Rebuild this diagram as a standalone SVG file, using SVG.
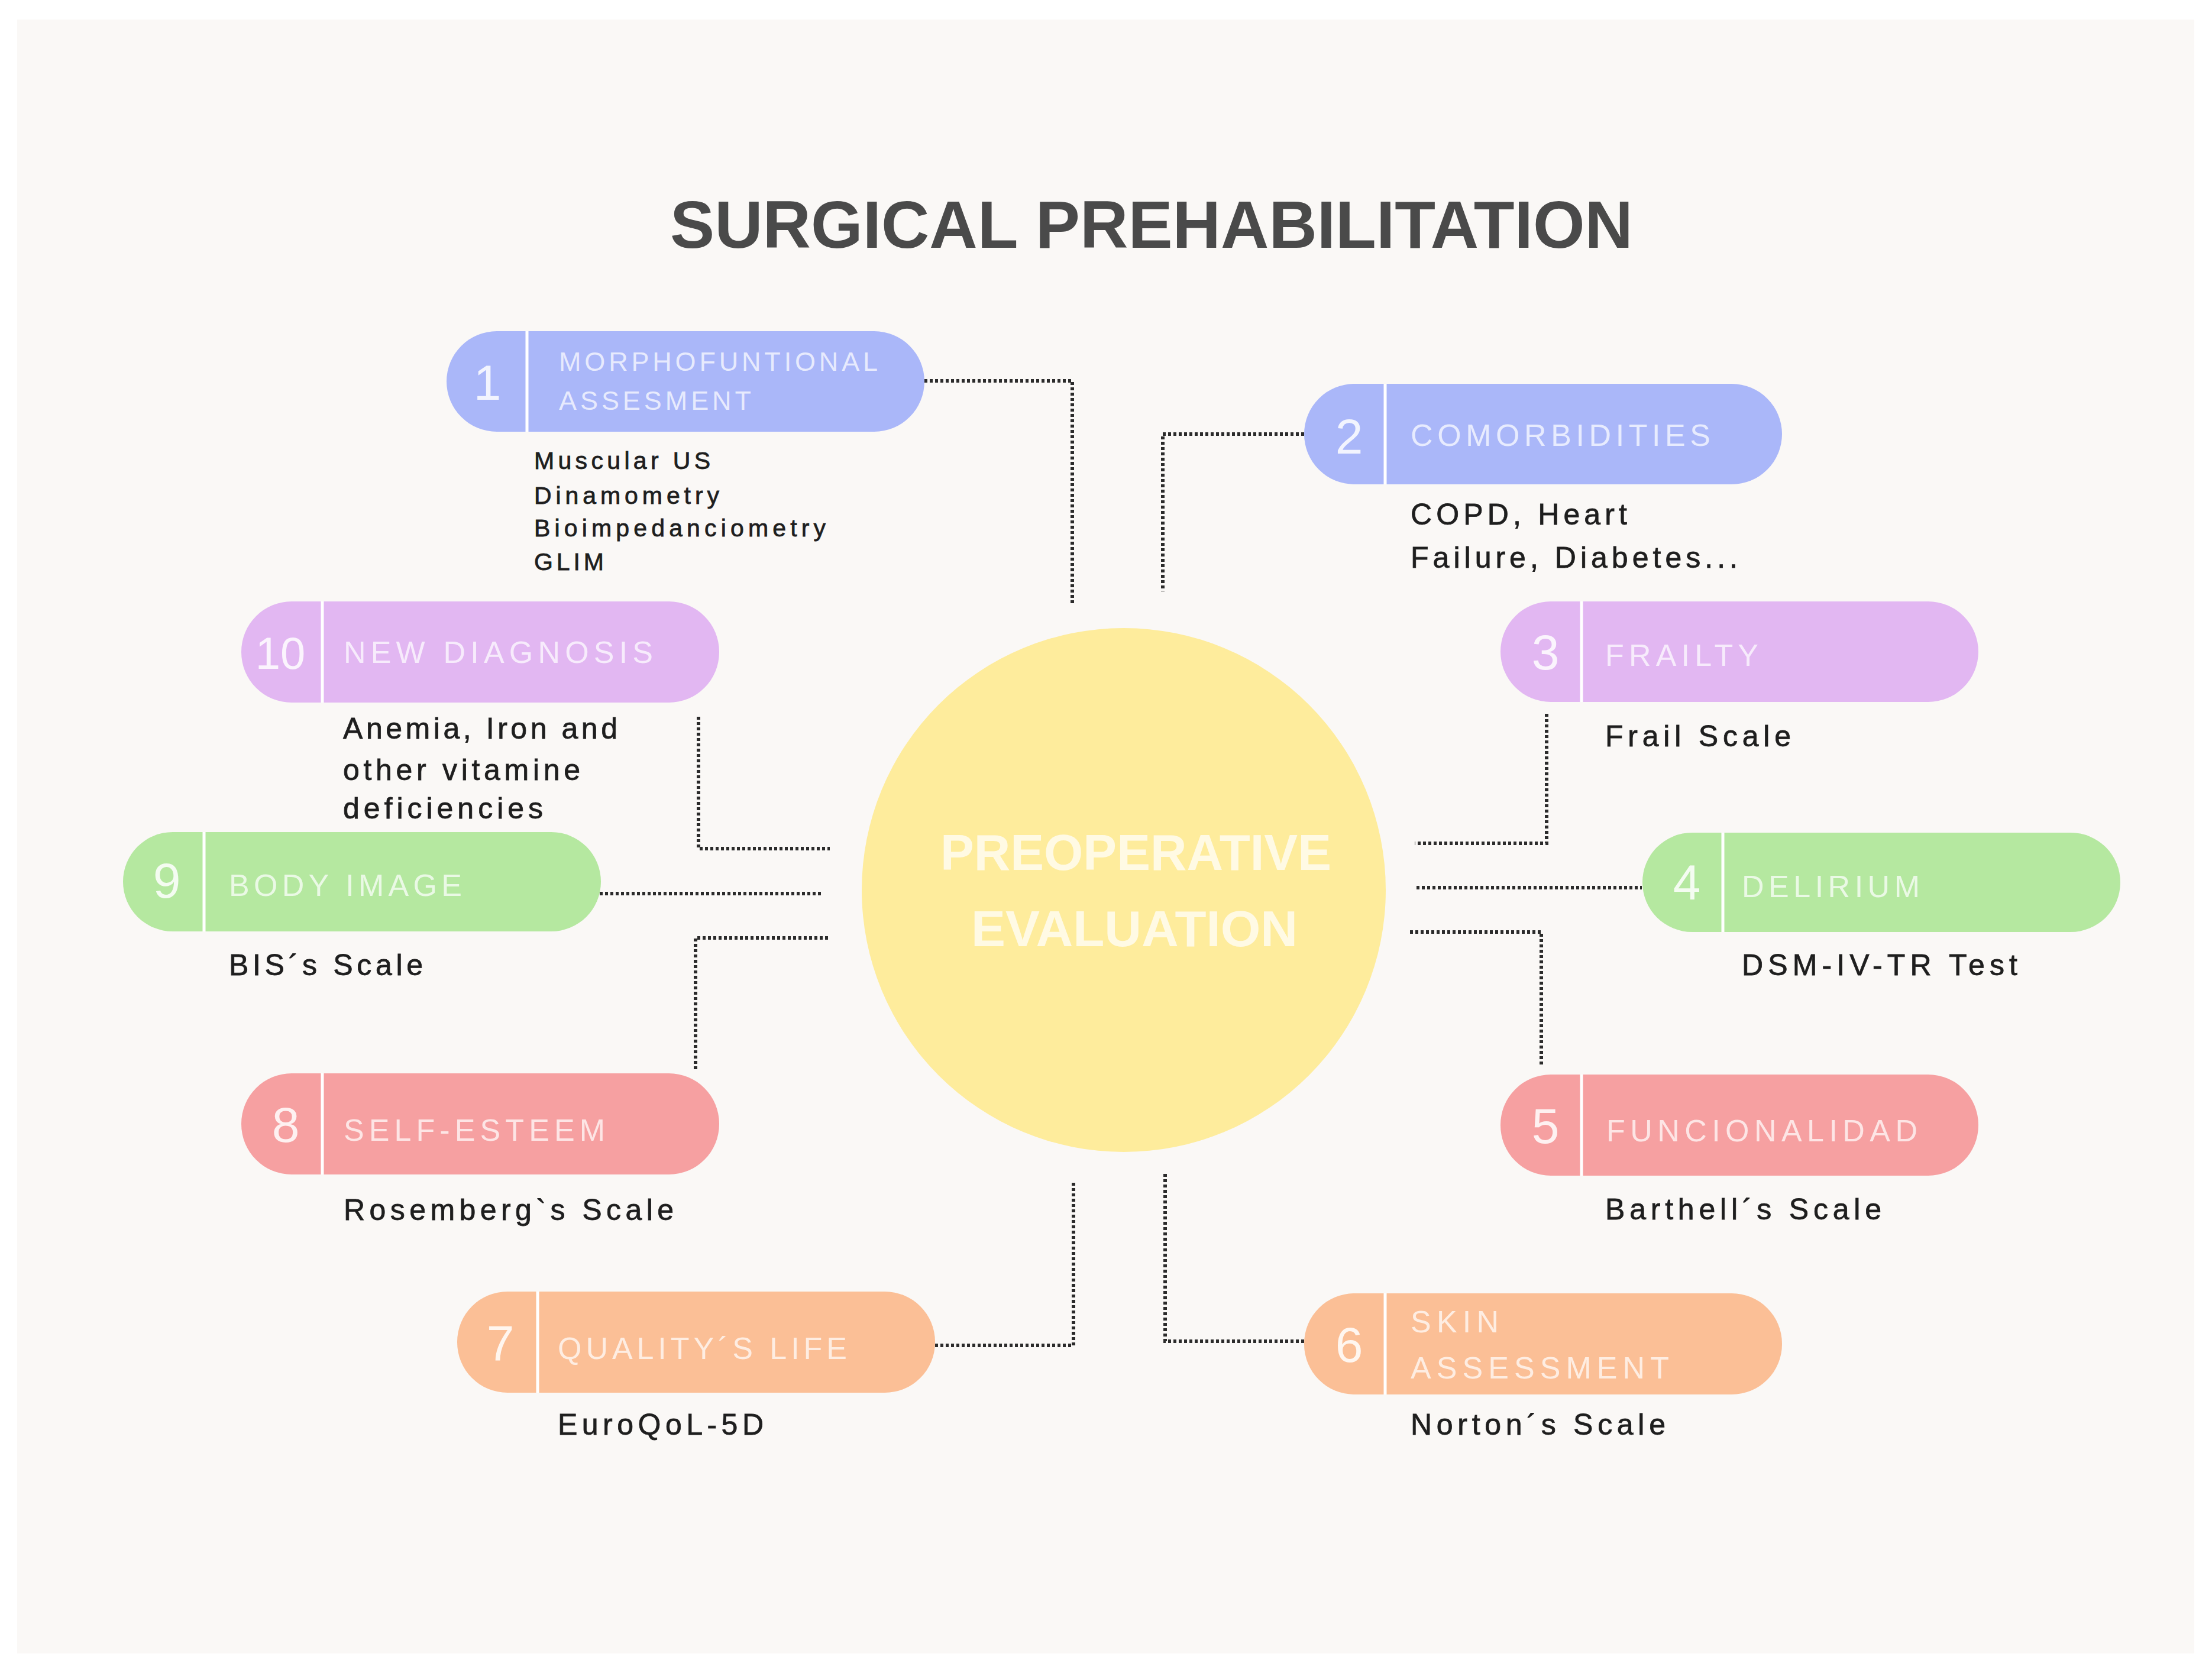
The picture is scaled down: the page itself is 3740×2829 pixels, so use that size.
<svg xmlns="http://www.w3.org/2000/svg" width="3740" height="2829" viewBox="0 0 3740 2829">
<style>
.title{font-family:"Liberation Sans",Arial,sans-serif;font-weight:bold;font-size:113px;fill:#4a4a4a}
.ctext{font-family:"Liberation Sans",Arial,sans-serif;font-weight:bold;font-size:86px;fill:#fffbea;fill-opacity:0.92}
.num{font-family:"Liberation Sans",Arial,sans-serif;font-size:84px;fill:#ffffff;fill-opacity:0.85;text-anchor:middle}
.hdr{font-family:"Liberation Sans",Arial,sans-serif;font-size:52px;fill:#ffffff;fill-opacity:0.72}
.hdr.sm{font-size:45px}
.desc{font-family:"Liberation Sans",Arial,sans-serif;font-size:50px;fill:#1e1e1e;stroke:#1e1e1e;stroke-width:0.8}
.desc.sm{font-size:41px}
.div{stroke:#ffffff;stroke-width:5}
.blue{fill:#aab7f9}.purple{fill:#e2b7f2}.green{fill:#b5e8a0}.red{fill:#f6a0a1}.orange{fill:#fbbf96}
.conn{fill:none;stroke:#2b2b2b;stroke-width:6;stroke-dasharray:5 4}
</style>
<rect x="0" y="0" width="3740" height="2829" fill="#ffffff"/>
<rect x="29" y="33" width="3681" height="2763" fill="#faf8f6"/>
<text class="title" x="1133" y="419" textLength="1628" lengthAdjust="spacingAndGlyphs">SURGICAL PREHABILITATION</text>

<g id="connectors">
<path class="conn" d="M1563 644 H1813 V1020"/>
<path class="conn" d="M2205 734 H1966 V1000"/>
<path class="conn" d="M1181 1212 V1435 H1403"/>
<path class="conn" d="M2615 1207 V1426 H2392"/>
<path class="conn" d="M1014 1511 H1391"/>
<path class="conn" d="M2395 1501 H2776"/>
<path class="conn" d="M1176 1808 V1586 H1400"/>
<path class="conn" d="M2606 1800 V1576 H2384"/>
<path class="conn" d="M1581 2275 H1815 V1998"/>
<path class="conn" d="M2205 2268 H1970 V1984"/>
</g>

<g id="center">
<circle cx="1900" cy="1505" r="443" fill="#feec9c"/>
<text class="ctext" x="1590" y="1471" textLength="661" lengthAdjust="spacingAndGlyphs">PREOPERATIVE</text>
<text class="ctext" x="1642" y="1600" textLength="552" lengthAdjust="spacingAndGlyphs">EVALUATION</text>
</g>

<g id="node1">
<rect class="blue" x="755" y="560" width="808" height="170" rx="85"/>
<line class="div" x1="891" y1="560" x2="891" y2="730"/>
<text class="num" x="824" y="676">1</text>
<text class="hdr sm" x="945" y="627" textLength="539">MORPHOFUNTIONAL</text>
<text class="hdr sm" x="945" y="693" textLength="325">ASSESMENT</text>
<text class="desc sm" x="903" y="793" textLength="298">Muscular US</text>
<text class="desc sm" x="903" y="852" textLength="313">Dinamometry</text>
<text class="desc sm" x="903" y="907" textLength="493">Bioimpedanciometry</text>
<text class="desc sm" x="903" y="964" textLength="118">GLIM</text>
</g>

<g id="node2">
<rect class="blue" x="2205" y="649" width="808" height="170" rx="85"/>
<line class="div" x1="2342" y1="649" x2="2342" y2="819"/>
<text class="num" x="2281" y="767">2</text>
<text class="hdr" x="2385" y="754" textLength="507">COMORBIDITIES</text>
<text class="desc" x="2385" y="887" textLength="366">COPD, Heart</text>
<text class="desc" x="2385" y="960" textLength="553">Failure, Diabetes...</text>
</g>

<g id="node3">
<rect class="purple" x="2537" y="1017" width="808" height="170" rx="85"/>
<line class="div" x1="2674" y1="1017" x2="2674" y2="1187"/>
<text class="num" x="2613" y="1132">3</text>
<text class="hdr" x="2714" y="1126" textLength="259">FRAILTY</text>
<text class="desc" x="2714" y="1262" textLength="314">Frail Scale</text>
</g>

<g id="node4">
<rect class="green" x="2777" y="1408" width="808" height="168" rx="84"/>
<line class="div" x1="2913" y1="1408" x2="2913" y2="1576"/>
<text class="num" x="2852" y="1521">4</text>
<text class="hdr" x="2945" y="1517" textLength="301">DELIRIUM</text>
<text class="desc" x="2945" y="1649" textLength="466">DSM-IV-TR Test</text>
</g>

<g id="node5">
<rect class="red" x="2537" y="1817" width="808" height="171" rx="85"/>
<line class="div" x1="2674" y1="1817" x2="2674" y2="1988"/>
<text class="num" x="2613" y="1933">5</text>
<text class="hdr" x="2716" y="1930" textLength="526">FUNCIONALIDAD</text>
<text class="desc" x="2714" y="2062" textLength="467">Barthell´s Scale</text>
</g>

<g id="node6">
<rect class="orange" x="2205" y="2187" width="808" height="171" rx="85"/>
<line class="div" x1="2342" y1="2187" x2="2342" y2="2358"/>
<text class="num" x="2281" y="2303">6</text>
<text class="hdr" x="2385" y="2253" textLength="149">SKIN</text>
<text class="hdr" x="2385" y="2331" textLength="437">ASSESSMENT</text>
<text class="desc" x="2385" y="2426" textLength="431">Norton´s Scale</text>
</g>

<g id="node7">
<rect class="orange" x="773" y="2184" width="808" height="171" rx="85"/>
<line class="div" x1="909" y1="2184" x2="909" y2="2355"/>
<text class="num" x="846" y="2300">7</text>
<text class="hdr" x="943" y="2298" textLength="489">QUALITY´S LIFE</text>
<text class="desc" x="943" y="2426" textLength="348">EuroQoL-5D</text>
</g>

<g id="node8">
<rect class="red" x="408" y="1815" width="808" height="171" rx="85"/>
<line class="div" x1="545" y1="1815" x2="545" y2="1986"/>
<text class="num" x="483" y="1931">8</text>
<text class="hdr" x="581" y="1929" textLength="442">SELF-ESTEEM</text>
<text class="desc" x="581" y="2063" textLength="558">Rosemberg`s Scale</text>
</g>

<g id="node9">
<rect class="green" x="208" y="1407" width="808" height="168" rx="84"/>
<line class="div" x1="345" y1="1407" x2="345" y2="1575"/>
<text class="num" x="282" y="1518">9</text>
<text class="hdr" x="387" y="1515" textLength="394">BODY IMAGE</text>
<text class="desc" x="387" y="1649" textLength="328">BIS´s Scale</text>
</g>

<g id="node10">
<rect class="purple" x="408" y="1017" width="808" height="171" rx="85"/>
<line class="div" x1="545" y1="1017" x2="545" y2="1188"/>
<text class="num" x="474" y="1131" style="font-size:76px">10</text>
<text class="hdr" x="581" y="1121" textLength="523">NEW DIAGNOSIS</text>
<text class="desc" x="580" y="1249" textLength="464">Anemia, Iron and</text>
<text class="desc" x="580" y="1319" textLength="401">other vitamine</text>
<text class="desc" x="580" y="1384" textLength="338">deficiencies</text>
</g>
</svg>
